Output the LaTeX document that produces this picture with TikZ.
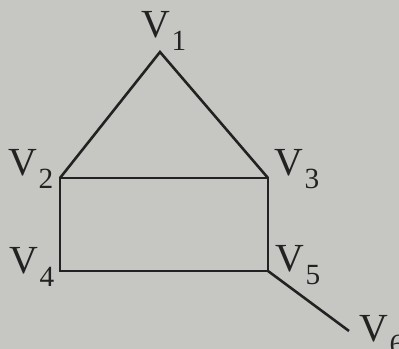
\documentclass[tikz,border=0pt]{standalone}
\usepackage{fontspec}
\setmainfont{Liberation Serif}
\usepackage{xcolor}
\usepackage{tikz}
\usetikzlibrary{positioning}
\definecolor{paper}{RGB}{198,198,195}
\definecolor{ink}{HTML}{222222}
\newcommand{\vlab}[1]{V\kern1pt\raisebox{-11pt}{\fontsize{25}{28}\selectfont #1}}
\tikzset{
    vname/.style={inner sep=0pt, text=ink, font=\fontsize{34}{40}\selectfont},
    edge/.style={draw=ink, line width=2.2pt, line join=miter}
}
\begin{document}
\begin{tikzpicture}[x=0.03cm, y=-0.03cm]

\fill[paper] (0,0) rectangle (399,349);
\useasboundingbox (0,0) rectangle (399,349);

\coordinate (v1) at (160,52);
\coordinate (v2) at (60,178);
\coordinate (v3) at (268,178);
\coordinate (v4) at (60,271);
\coordinate (v5) at (268,271);
\coordinate (v6) at (349,331);

\node[vname] (l1) at (164,31) {\vlab{1}};
\node[vname] (l2) at (31,169) {\vlab{2}};
\node[vname] (l3) at (297,169) {\vlab{3}};
\node[vname] (l4) at (32,267) {\vlab{4}};
\node[vname] (l5) at (298,265) {\vlab{5}};
\node[vname] (l6) at (382,335) {\vlab{6}};

\draw[edge] (v2) -- (v1) -- (v3);
\draw[edge] (v2) -- (v3) -- (v5) -- (v4) -- cycle;
\draw[edge] (v5) -- (v6);

\end{tikzpicture}
\end{document}
